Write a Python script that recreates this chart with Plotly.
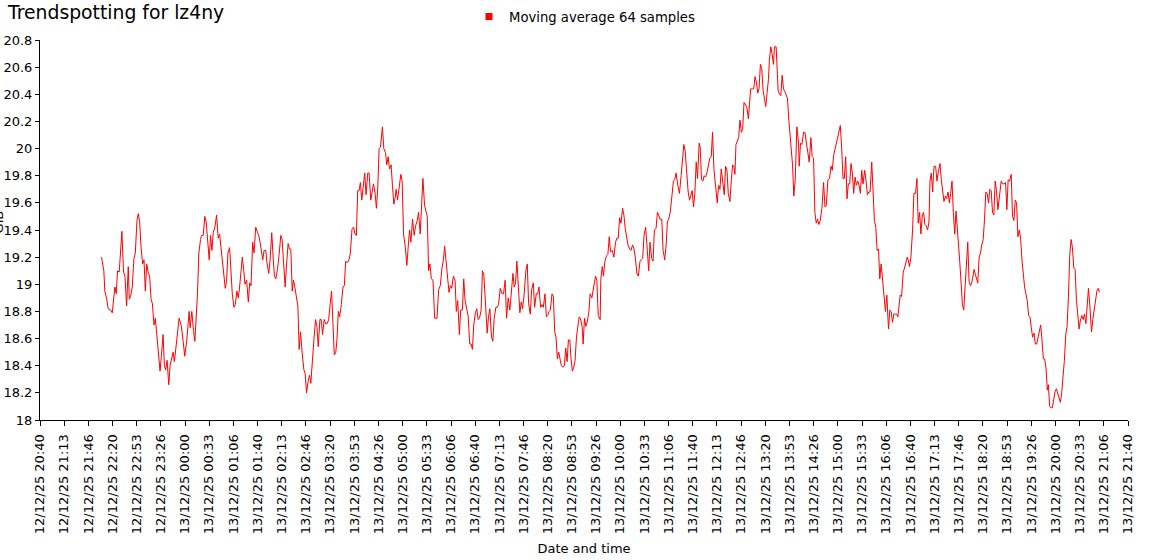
import pandas as pd
import plotly.graph_objects as go

start = pd.Timestamp("2025-12-12 20:40")

offset_min = [
    84.8, 88.0, 89.4, 91.7, 94.0, 97.7, 99.6, 101.9, 103.2, 105.1, 106.9, 109.2, 112.9, 115.2, 117.1, 119.4,
    121.7, 123.1, 124.9, 127.2, 129.5, 131.4, 133.7, 135.5, 137.4, 139.2, 141.5, 143.4, 145.2, 147.1, 149.4,
    151.2, 153.1, 154.9, 157.2, 159.0, 161.4, 163.2, 165.5, 167.3, 169.7, 171.5, 173.3, 175.2, 177.5, 179.3,
    181.2, 183.5, 185.3, 188.1, 191.8, 195.0, 197.8, 199.6, 202.4, 205.6, 207.0, 209.3, 211.6, 213.5,
    217.1, 219.0, 221.3, 222.7, 225.0, 227.3, 229.1, 231.0, 233.3, 235.1, 237.0, 238.8, 241.1, 243.4, 245.7,
    247.6, 249.4, 251.3, 253.1, 255.4, 257.2, 259.1, 261.4, 263.3, 265.1, 267.4, 269.2, 271.5, 273.4, 275.2,
    277.1, 278.9, 280.8, 282.6, 284.9, 287.2, 289.1, 290.9, 293.2, 295.1, 297.4, 299.2, 301.5, 303.4, 305.2,
    307.1, 308.9, 311.2, 313.1, 315.4, 317.2, 319.5, 321.4, 323.2, 325.1, 327.4, 329.7, 332.0, 333.8, 335.7,
    338.0, 339.8, 342.1, 344.0, 345.8, 347.7, 349.5, 351.3, 353.6, 355.5,
    357.3, 359.2, 361.5, 363.8, 365.6, 367.5, 369.8, 371.6, 373.4, 375.3, 377.6, 379.9, 381.8, 383.6, 385.9,
    387.7, 389.6, 391.9, 393.7, 396.0, 397.9, 400.2, 402.0, 403.9, 405.7, 407.6, 409.4, 411.3, 413.1, 415.4,
    417.7, 419.6, 421.4, 423.7, 426.0, 427.9, 430.2, 432.5, 434.3, 436.2, 438.0, 439.9, 441.7, 443.6, 445.4,
    447.7, 449.5, 451.9, 453.7, 456.0, 457.9, 459.7, 462.0, 463.8, 465.7, 467.5, 469.4, 472.1, 474.0, 476.3,
    478.1, 480.0, 481.8, 484.1, 486.0, 487.8, 489.7,
    491.0, 492.9, 495.2, 497.5, 499.3, 501.2, 503.5, 505.8, 508.1, 509.5, 511.3, 513.6, 515.9, 517.8, 520.1,
    521.9, 524.2, 526.1, 527.9, 530.2, 532.5, 533.9, 535.8, 537.6, 539.5, 541.8, 544.1, 547.3, 549.6, 551.9,
    554.2, 556.1, 557.9, 560.2, 562.1, 563.9, 565.7, 567.6, 569.9, 572.2, 574.0, 575.9, 578.2, 580.0, 582.3,
    584.2, 586.0, 588.3, 590.2, 592.5, 594.3, 596.2, 598.0, 600.3, 602.2, 604.0, 605.9, 608.2, 610.0, 611.9,
    614.2, 616.5, 618.3, 620.2, 622.5, 624.3, 626.2, 628.5, 630.3, 632.2, 634.5,
    637.2, 639.0, 641.3, 643.2, 645.5, 647.8, 650.1, 652.0, 653.8, 655.6, 657.5, 659.3, 661.6, 663.5, 665.3,
    667.6, 669.9, 671.8, 673.6, 675.9, 677.8, 680.1, 681.9, 684.2, 686.1, 687.9, 690.2, 692.1, 693.9, 696.2,
    698.1, 699.9, 701.8, 703.6, 705.9, 707.8, 709.6, 711.4, 713.3, 715.1, 717.0, 718.8, 721.1, 723.0, 724.8,
    726.7, 728.5, 730.4, 732.2, 734.0, 735.9, 737.7, 739.6, 741.4, 743.3, 745.1, 747.4, 748.8, 750.7, 752.5,
    754.3, 756.6, 758.5, 760.8, 762.6, 764.5, 765.9, 767.7, 769.6, 772.3,
    773.2, 775.1, 776.9, 778.8, 781.1, 782.9, 784.8, 786.6, 788.9, 791.2, 793.5, 795.4, 797.2, 799.1, 800.9,
    803.2, 805.0, 806.9, 808.7, 810.6, 812.9, 814.7, 817.0, 818.9, 820.7, 823.0, 824.9, 827.2, 829.0, 830.9,
    832.7, 835.0, 837.3, 839.2, 841.0, 843.3, 845.2, 847.0, 849.3, 851.2, 853.0, 854.9, 857.2, 859.0, 861.3,
    863.2, 865.0, 867.3, 869.1, 871.4, 873.3, 875.1, 877.0, 879.3, 881.6, 883.9, 885.8, 887.6, 889.5, 891.3,
    893.6, 895.5, 897.3, 899.1, 901.0, 902.8, 904.7, 906.5, 908.8,
    910.2, 912.0, 913.9, 915.7, 917.5, 919.4, 921.2, 923.5, 925.4, 927.2, 929.1, 931.4, 933.7, 935.5, 937.4,
    939.2, 941.5, 943.4, 945.2, 947.1, 948.9, 951.2, 953.1, 954.9, 956.7, 958.1, 959.5, 961.4, 963.2, 965.1,
    966.9, 968.7, 970.6, 972.9, 974.7, 976.6, 978.4, 979.8, 982.1, 984.0, 985.8, 987.7, 989.5, 991.3, 993.2,
    995.0, 996.9, 998.7, 1000.6, 1002.4, 1004.3, 1005.6, 1007.5, 1009.3, 1011.2, 1012.6, 1014.9, 1016.2,
    1017.6, 1019.5, 1021.3, 1023.2, 1025.0, 1026.9, 1028.7, 1030.5, 1032.4, 1033.8, 1035.6, 1037.5, 1039.3,
    1041.2, 1043.5, 1045.8,
    1046.7, 1048.5, 1050.4, 1052.7, 1054.5, 1056.3, 1058.6, 1060.5, 1062.8, 1064.6, 1066.5, 1068.3, 1070.2,
    1072.0, 1073.9, 1075.7, 1078.0, 1080.3, 1082.2, 1084.0, 1086.3, 1088.6, 1090.5, 1092.3, 1094.2, 1096.0,
    1097.8, 1099.7, 1101.5, 1103.4, 1105.2, 1107.1, 1108.9, 1110.8, 1112.6, 1114.4, 1116.3, 1118.1, 1120.0,
    1121.8, 1123.7, 1125.5, 1127.4, 1129.2, 1131.1, 1132.9, 1134.7, 1137.0, 1138.9, 1140.7, 1142.6, 1144.4,
    1146.7, 1148.6, 1150.4, 1152.3, 1154.1, 1156.0, 1157.8, 1159.6, 1162.0, 1163.8, 1165.6, 1167.5, 1169.8,
    1171.6, 1173.5, 1175.3, 1177.2, 1179.0, 1180.9, 1182.7, 1185.0,
    1185.9, 1187.8, 1190.1, 1191.9, 1193.8, 1195.6, 1197.0, 1198.8, 1200.7, 1203.0, 1204.8, 1207.1, 1209.0,
    1210.8, 1212.7, 1214.5, 1216.4, 1218.2, 1220.0, 1221.9, 1223.7, 1225.6, 1227.0, 1228.8, 1230.6, 1232.5,
    1234.8, 1236.6, 1238.5, 1240.8, 1242.6, 1244.5, 1246.3, 1248.2, 1250.0, 1251.9, 1253.7, 1255.5, 1257.4,
    1259.2, 1261.1, 1262.9, 1264.3, 1266.2, 1268.0, 1269.9, 1271.7, 1273.5, 1275.4, 1277.2, 1279.1, 1280.9,
    1282.8, 1284.6, 1286.5, 1287.8, 1289.7, 1291.5, 1292.9, 1294.8, 1296.6, 1298.4, 1300.3, 1302.1, 1304.0,
    1305.8, 1307.7, 1309.5, 1311.4, 1313.2, 1315.0, 1316.9, 1318.7, 1320.6,
    1322.9, 1325.2, 1327.0, 1329.3, 1331.2, 1333.0, 1334.8, 1336.7, 1339.0, 1340.8, 1342.7, 1344.5, 1346.4,
    1348.2, 1350.1, 1351.9, 1353.8, 1355.6, 1357.4, 1359.3, 1361.1, 1363.0, 1364.8, 1366.7, 1368.5, 1370.4,
    1372.2, 1374.1, 1375.9, 1377.7, 1379.6, 1381.4, 1383.3, 1385.1, 1387.0, 1388.8, 1390.2, 1392.0, 1393.9,
    1395.7, 1397.6, 1399.4, 1401.3, 1403.1, 1404.9, 1406.8, 1408.6, 1410.5, 1412.3, 1414.2, 1416.0, 1417.9,
    1419.7, 1421.6, 1423.4, 1425.2, 1427.1, 1428.9, 1430.8, 1432.6, 1434.5, 1436.3, 1438.2, 1440.0, 1441.9,
    1443.7, 1445.5, 1447.4, 1449.7, 1451.5, 1453.4, 1455.2, 1457.1, 1458.9, 1460.8,
]

moving_avg_gib = [
    19.20, 19.10, 18.95, 18.90, 18.82, 18.81, 18.79, 18.92, 18.98, 18.93, 19.10, 19.09, 19.39, 19.09, 19.06, 18.84,
    19.13, 18.89, 18.91, 18.98, 19.19, 19.23, 19.47, 19.52, 19.46, 19.28, 19.15, 19.18, 18.95, 19.15, 19.08,
    19.06, 18.89, 18.86, 18.70, 18.75, 18.59, 18.47, 18.36, 18.47, 18.63, 18.40, 18.37, 18.44, 18.26, 18.40,
    18.44, 18.50, 18.43, 18.59, 18.75, 18.69, 18.54, 18.47, 18.59, 18.80, 18.68, 18.80, 18.66, 18.58,
    18.93, 19.23, 19.33, 19.36, 19.36, 19.50, 19.46, 19.33, 19.18, 19.36, 19.25, 19.38, 19.42, 19.51, 19.34,
    19.37, 19.28, 19.20, 19.06, 18.97, 19.02, 19.23, 19.27, 19.11, 18.93, 18.83, 18.85, 18.95, 18.90, 18.98,
    19.12, 19.20, 19.11, 19.00, 19.03, 18.87, 19.01, 18.99, 19.31, 19.23, 19.42, 19.39, 19.36, 19.31, 19.23,
    19.18, 19.25, 19.25, 19.15, 19.08, 19.18, 19.38, 19.20, 19.06, 19.04, 19.11, 19.22, 19.36, 19.33, 19.13,
    18.98, 19.14, 19.30, 19.26, 19.26, 18.95, 19.03, 18.98, 18.88, 18.84,
    18.52, 18.65, 18.49, 18.37, 18.34, 18.20, 18.29, 18.33, 18.27, 18.44, 18.59, 18.74, 18.69, 18.54, 18.74,
    18.74, 18.63, 18.74, 18.71, 18.71, 18.74, 18.86, 18.95, 18.71, 18.48, 18.49, 18.59, 18.80, 18.76, 18.85,
    18.98, 18.99, 19.17, 19.16, 19.18, 19.23, 19.41, 19.42, 19.37, 19.36, 19.69, 19.69, 19.75, 19.62, 19.72,
    19.82, 19.66, 19.82, 19.82, 19.62, 19.68, 19.74, 19.67, 19.56, 19.71, 20.00, 20.01, 20.16, 20.00, 19.97,
    19.88, 19.94, 19.85, 19.88, 19.72, 19.59, 19.64,
    19.70, 19.62, 19.72, 19.81, 19.76, 19.37, 19.28, 19.14, 19.31, 19.40, 19.31, 19.48, 19.36, 19.43, 19.47,
    19.53, 19.37, 19.60, 19.78, 19.58, 19.53, 19.50, 19.10, 19.15, 19.04, 19.03, 18.75, 18.75, 18.96, 18.99,
    19.12, 19.18, 19.28, 19.13, 19.01, 18.94, 18.99, 18.97, 19.06, 19.03, 18.80, 18.88, 18.63, 18.81, 18.81,
    19.04, 18.88, 18.81, 18.77, 18.56, 18.56, 18.52, 18.70, 18.79, 18.82, 18.74, 18.75, 18.81, 19.10, 19.07,
    18.81, 18.64, 18.76, 18.82, 18.61, 18.58, 18.75, 18.83, 18.83, 18.85, 18.97,
    18.93, 18.93, 19.03, 18.75, 18.90, 18.81, 18.96, 19.08, 18.98, 19.01, 19.17, 19.03, 18.79, 18.87, 18.82,
    18.93, 19.10, 19.15, 18.86, 18.78, 18.96, 19.01, 18.83, 18.93, 18.93, 18.98, 18.83, 18.85, 18.83, 18.93,
    18.76, 18.77, 18.80, 18.81, 18.93, 18.91, 18.65, 18.61, 18.45, 18.50, 18.44, 18.40, 18.39, 18.40, 18.53,
    18.43, 18.59, 18.59, 18.45, 18.36, 18.39, 18.44, 18.61, 18.67, 18.76, 18.75, 18.69, 18.56, 18.75, 18.69,
    18.72, 18.79, 18.93, 18.90, 18.96, 19.03, 19.06, 19.03, 18.77, 18.74,
    19.04, 19.13, 19.06, 19.17, 19.21, 19.22, 19.35, 19.24, 19.25, 19.20, 19.31, 19.34, 19.34, 19.49, 19.45,
    19.56, 19.51, 19.41, 19.33, 19.29, 19.26, 19.25, 19.29, 19.26, 19.20, 19.08, 19.06, 19.17, 19.18, 19.19,
    19.36, 19.42, 19.25, 19.10, 19.31, 19.19, 19.17, 19.40, 19.41, 19.53, 19.51, 19.48, 19.48, 19.25, 19.18,
    19.29, 19.46, 19.49, 19.54, 19.68, 19.76, 19.77, 19.82, 19.73, 19.67, 19.80, 19.93, 20.03, 19.98, 19.84,
    19.68, 19.62, 19.66, 19.69, 19.57, 19.67, 19.90, 19.78, 20.04,
    20.01, 19.77, 19.76, 19.80, 19.79, 19.82, 19.86, 19.93, 19.94, 20.12, 19.85, 19.72, 19.60, 19.73, 19.70,
    19.85, 19.76, 19.66, 19.87, 19.84, 19.67, 19.61, 19.77, 19.88, 19.87, 19.81, 20.03, 20.05, 20.08, 20.21,
    20.12, 20.14, 20.34, 20.32, 20.30, 20.22, 20.36, 20.44, 20.44, 20.44, 20.53, 20.49, 20.41, 20.44, 20.62,
    20.59, 20.43, 20.36, 20.31, 20.41, 20.51, 20.65, 20.75, 20.70, 20.62, 20.75, 20.75, 20.60,
    20.43, 20.40, 20.39, 20.54, 20.44, 20.42, 20.40, 20.37, 20.21, 20.11, 19.98, 19.88, 19.65,
    19.77, 20.16, 20.04,
    19.87, 20.04, 20.03, 20.12, 20.12, 20.06, 19.98, 19.90, 20.08, 19.94, 19.93, 19.53, 19.45,
    19.48, 19.44, 19.47, 19.56, 19.75, 19.57, 19.58, 19.77, 19.78, 19.87, 19.84, 19.95, 19.99,
    20.03, 20.07, 20.12, 20.17, 20.01, 19.78, 19.78, 19.94, 19.63, 19.74, 19.74, 19.89, 19.82,
    19.67, 19.79, 19.73, 19.76, 19.73, 19.67, 19.84, 19.74, 19.84, 19.76, 19.66, 19.68, 19.68,
    19.90, 19.67, 19.47, 19.42, 19.25, 19.26, 19.04, 19.15, 19.01, 18.93, 18.80, 18.92, 18.67,
    18.81, 18.80, 18.72, 18.78, 18.78, 18.78, 18.76, 18.88,
    18.92, 18.91, 19.09, 19.12, 19.17, 19.20, 19.18, 19.13, 19.20, 19.40, 19.67, 19.67, 19.78,
    19.45, 19.53, 19.37, 19.51, 19.53, 19.44, 19.43, 19.40, 19.46, 19.76, 19.82, 19.68, 19.87,
    19.87, 19.76, 19.83, 19.89, 19.77, 19.66, 19.61, 19.65, 19.63, 19.68, 19.60, 19.67, 19.76,
    19.53, 19.37, 19.54, 19.45, 19.28, 19.17, 19.01, 18.85, 18.81, 18.98, 19.23, 19.31, 19.02,
    18.99, 19.01, 19.06, 19.11, 19.07, 19.03, 19.01, 19.20, 19.23, 19.29, 19.33, 19.47, 19.68,
    19.67, 19.60, 19.70, 19.69, 19.53, 19.51, 19.76, 19.69, 19.55,
    19.65, 19.76, 19.74, 19.74, 19.75, 19.55, 19.77, 19.76, 19.81, 19.50, 19.47, 19.62, 19.60,
    19.35, 19.40, 19.34, 19.18, 19.06, 18.98, 18.93, 18.88, 18.77, 18.76, 18.68, 18.61, 18.64,
    18.56, 18.56, 18.61, 18.66, 18.70, 18.59, 18.45, 18.45, 18.38, 18.22, 18.26, 18.10, 18.09,
    18.09, 18.15, 18.21, 18.23, 18.20, 18.17, 18.13, 18.20, 18.30, 18.44, 18.63, 18.69, 18.91,
    19.22, 19.33, 19.27, 19.12, 19.11, 18.88, 18.75, 18.67, 18.74, 18.77, 18.74, 18.78, 18.71,
    18.86, 18.97, 18.84, 18.65, 18.74, 18.82, 18.88, 18.95, 18.97, 18.94,
]

tick_labels = [
    "12/12/25 20:40", "12/12/25 21:13", "12/12/25 21:46", "12/12/25 22:20", "12/12/25 22:53",
    "12/12/25 23:26", "13/12/25 00:00", "13/12/25 00:33", "13/12/25 01:06", "13/12/25 01:40",
    "13/12/25 02:13", "13/12/25 02:46", "13/12/25 03:20", "13/12/25 03:53", "13/12/25 04:26",
    "13/12/25 05:00", "13/12/25 05:33", "13/12/25 06:06", "13/12/25 06:40", "13/12/25 07:13",
    "13/12/25 07:46", "13/12/25 08:20", "13/12/25 08:53", "13/12/25 09:26", "13/12/25 10:00",
    "13/12/25 10:33", "13/12/25 11:06", "13/12/25 11:40", "13/12/25 12:13", "13/12/25 12:46",
    "13/12/25 13:20", "13/12/25 13:53", "13/12/25 14:26", "13/12/25 15:00", "13/12/25 15:33",
    "13/12/25 16:06", "13/12/25 16:40", "13/12/25 17:13", "13/12/25 17:46", "13/12/25 18:20",
    "13/12/25 18:53", "13/12/25 19:26", "13/12/25 20:00", "13/12/25 20:33", "13/12/25 21:06",
    "13/12/25 21:40",
]

times = start + pd.to_timedelta(offset_min, unit="m")
tick_step = pd.Timedelta(seconds=2000)
tickvals = [start + k * tick_step for k in range(len(tick_labels))]
x_end = tickvals[-1]

FONT = "DejaVu Sans"

fig = go.Figure()
fig.add_trace(go.Scatter(
    x=times, y=moving_avg_gib, mode="lines",
    line=dict(color="#ff0000", width=1),
    showlegend=False, hoverinfo="x+y",
))
fig.add_trace(go.Scatter(
    x=[None], y=[None], mode="markers",
    marker=dict(symbol="square", size=7, color="#ff0000"),
    name="Moving average 64 samples", showlegend=True,
))

fig.update_layout(
    width=1150, height=560, autosize=False,
    margin=dict(l=40, r=22, t=40, b=140, autoexpand=False),
    paper_bgcolor="white", plot_bgcolor="white",
    font=dict(family=FONT, size=13, color="#000000"),
    title=dict(text="Trendspotting for lz4ny", x=8 / 1150, xanchor="left", xref="container",
               y=1 - 12 / 560, yanchor="middle", yref="container",
               font=dict(family=FONT, size=18.8, color="#000000")),
    legend=dict(orientation="h", x=469 / 1150, xanchor="left", xref="container",
                y=1 - 17 / 560, yanchor="middle", yref="container",
                font=dict(family=FONT, size=13.2, color="#000000"),
                bgcolor="rgba(0,0,0,0)"),
    xaxis=dict(
        range=[start, x_end], tickmode="array", tickvals=tickvals, ticktext=tick_labels,
        tickangle=-90, showgrid=False, zeroline=False, showline=True, linecolor="#000000",
        linewidth=1, ticks="outside", ticklen=5, tickcolor="#000000", automargin=False,
        ticklabelstandoff=3,
        tickfont=dict(family=FONT, size=13),
        title=dict(text="Date and time", font=dict(family=FONT, size=13), standoff=10),
    ),
    yaxis=dict(
        range=[18, 20.8], dtick=0.2, tick0=18, showgrid=False, zeroline=False,
        showline=True, linecolor="#000000", linewidth=1, ticks="outside", ticklen=4,
        tickcolor="#000000", tickfont=dict(family=FONT, size=13), automargin=False,
    ),
    annotations=[dict(text="GiB", textangle=-90, xref="paper", yref="paper",
                      x=-42 / 1088, y=0.52, xanchor="center", yanchor="middle",
                      showarrow=False, font=dict(family=FONT, size=13))],
)

fig.write_html("out.html", config={"displayModeBar": False},
               post_script="document.body.style.margin='0';")
